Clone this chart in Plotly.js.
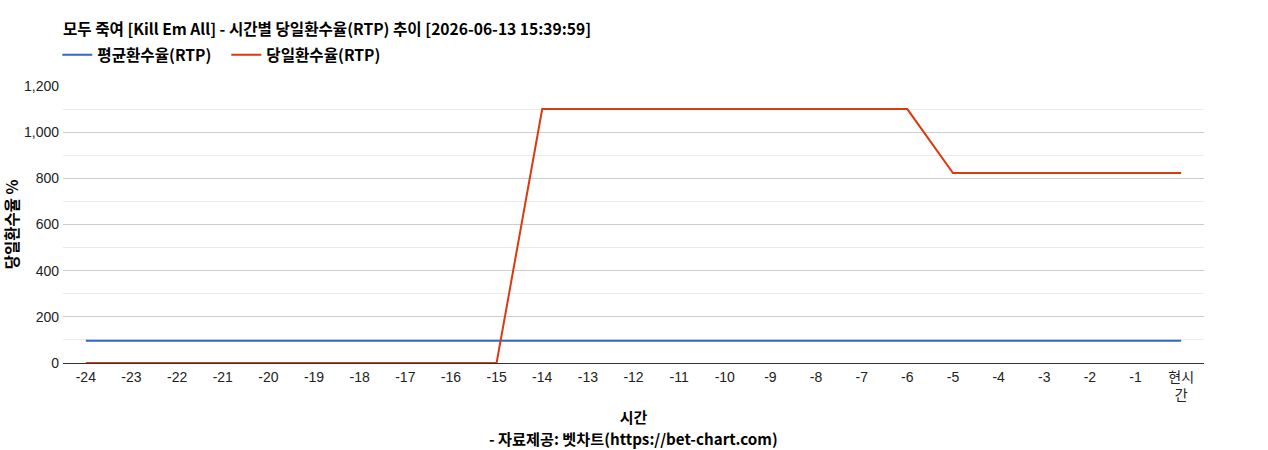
<!DOCTYPE html>
<html>
<head>
<meta charset="utf-8">
<script src="https://cdn.plot.ly/plotly-3.0.1.min.js"></script>
<style>
    html, body { margin: 0; padding: 0; background: #fff; }
    #chart { width: 1268px; height: 450px; }
</style>
</head>
<body>
<div id="chart"></div>
<script>
// Hours before now, 0 = current hour
const hours = [-24, -23, -22, -21, -20, -19, -18, -17, -16, -15, -14, -13, -12,
    -11, -10, -9, -8, -7, -6, -5, -4, -3, -2, -1, 0];
const hourLabels = ['-24', '-23', '-22', '-21', '-20', '-19', '-18', '-17', '-16', '-15',
    '-14', '-13', '-12', '-11', '-10', '-9', '-8', '-7', '-6', '-5', '-4', '-3', '-2', '-1',
    '현시<br>간'];

// Average RTP (%)
const avgRtp = [96, 96, 96, 96, 96, 96, 96, 96, 96, 96, 96, 96, 96,
    96, 96, 96, 96, 96, 96, 96, 96, 96, 96, 96, 96];
// Today's RTP (%)
const dayRtp = [0, 0, 0, 0, 0, 0, 0, 0, 0, 0, 1100, 1100, 1100,
    1100, 1100, 1100, 1100, 1100, 1100, 823, 823, 823, 823, 823, 823];

const BASE_FONT = 'Arial, "Liberation Sans", "Noto Sans CJK KR", sans-serif';
const KR_FONT = '"Noto Sans CJK KR", "Liberation Sans", sans-serif';

const traces = [
    {
        x: hours,
        y: avgRtp,
        type: 'scatter',
        mode: 'lines',
        name: '평균환수율(RTP)',
        line: { color: '#3366cc', width: 2 },
    },
    {
        x: hours,
        y: dayRtp,
        type: 'scatter',
        mode: 'lines',
        name: '당일환수율(RTP)',
        line: { color: '#dc3912', width: 2 },
    },
];

const layout = {
    width: 1268,
    height: 450,
    margin: { l: 63, r: 64, t: 86, b: 87 },
    paper_bgcolor: '#ffffff',
    plot_bgcolor: '#ffffff',
    font: { family: BASE_FONT, size: 14, color: '#222' },
    title: {
        text: '<b>모두 죽여 [Kill Em All] - 시간별 당일환수율(RTP) 추이 [2026-06-13 15:39:59]</b>',
        font: { family: KR_FONT, size: 15.6, color: '#000' },
        x: 63 / 1268,
        xanchor: 'left',
        y: 1 - 30 / 450,
        yanchor: 'middle',
    },
    showlegend: true,
    legend: {
        orientation: 'h',
        x: -0.005,
        xanchor: 'left',
        y: 1 + 31 / 277,
        yanchor: 'middle',
        font: { family: KR_FONT, size: 15.6, color: '#000', weight: 'bold' },
        itemwidth: 30,
        entrywidth: 124,
        entrywidthmode: 'pixels',
        bgcolor: 'rgba(0,0,0,0)',
    },
    xaxis: {
        range: [-24.5, 0.5],
        tickmode: 'array',
        tickvals: hours,
        ticktext: hourLabels,
        showgrid: false,
        zeroline: false,
        showline: false,
        ticks: '',
        ticklabelstandoff: 4,
        tickfont: { family: BASE_FONT, size: 14, color: '#222' },
        fixedrange: true,
        title: {
            text: '<b>시간</b>',
            font: { family: KR_FONT, size: 15, color: '#000' },
            standoff: 10,
        },
    },
    yaxis: {
        range: [0, 1200],
        dtick: 200,
        tickformat: ',d',
        showgrid: true,
        gridcolor: '#cccccc',
        gridwidth: 1,
        minor: { dtick: 100, showgrid: true, gridcolor: '#ebebeb', gridwidth: 1 },
        zeroline: true,
        zerolinecolor: '#333333',
        zerolinewidth: 1,
        showline: false,
        ticks: '',
        ticklabelstandoff: 3,
        tickfont: { family: BASE_FONT, size: 14, color: '#222' },
        fixedrange: true,
        title: {
            text: '<b>당일환수율 %</b>',
            font: { family: KR_FONT, size: 15.5, color: '#000' },
            standoff: 8,
        },
    },
    annotations: [
        {
            text: '<b>- 자료제공: 벳차트(https://bet-chart.com)</b>',
            xref: 'paper',
            yref: 'paper',
            x: 0.5,
            xanchor: 'center',
            y: -(438 - 363) / 277,
            yanchor: 'middle',
            showarrow: false,
            font: { family: KR_FONT, size: 15.2, color: '#000' },
        },
    ],
};

Plotly.newPlot('chart', traces, layout, { displayModeBar: false, staticPlot: true });
</script>
</body>
</html>
